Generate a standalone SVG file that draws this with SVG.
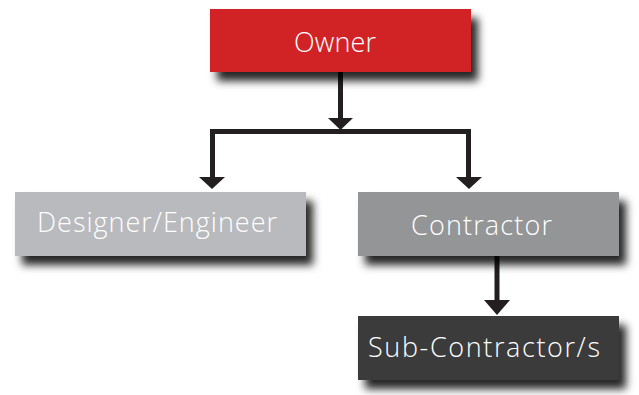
<svg xmlns="http://www.w3.org/2000/svg" width="639" height="395" viewBox="0 0 639 395">
  <defs>
    <filter id="shadow" x="-10%" y="-20%" width="130%" height="170%">
      <feDropShadow dx="7" dy="9" stdDeviation="4.5" flood-color="#000" flood-opacity="0.85"/>
    </filter>
  </defs>
  <style>
    .box { filter: url(#shadow); }
    .label { font-family: "Open Sans", "DejaVu Sans", sans-serif; font-size: 27px; font-weight: 300; fill: #ffffff; }
    .wire { fill: none; stroke: #231f20; stroke-width: 5; }
    .head { fill: #231f20; }
  </style>
  <rect width="639" height="395" fill="#ffffff"/>

  <g id="connectors">
    <line class="wire" x1="340.5" y1="72" x2="340.5" y2="120"/>
    <polygon class="head" points="328,118 353,118 340.5,130"/>
    <polyline class="wire" points="212.5,180 212.5,131.5 468.5,131.5 468.5,180" stroke-width="4"/>
    <polygon class="head" points="199,177 225,177 212,189"/>
    <polygon class="head" points="456,177 482,177 469,189"/>
    <line class="wire" x1="497" y1="256" x2="497" y2="302"/>
    <polygon class="head" points="484,300 510,300 497,315"/>
  </g>

  <g id="owner">
    <rect class="box" x="210" y="9" width="261" height="63" fill="#d12027"/>
    <text class="label" x="294" y="52" textLength="82">Owner</text>
  </g>

  <g id="designer">
    <rect class="box" x="15" y="192" width="291" height="64" fill="#b9babe"/>
    <text class="label" x="37" y="232" textLength="240">Designer/Engineer</text>
  </g>

  <g id="contractor">
    <rect class="box" x="358" y="192" width="261" height="64" fill="#949597"/>
    <text class="label" x="411" y="235" textLength="141">Contractor</text>
  </g>

  <g id="subcontractor">
    <rect class="box" x="358" y="316" width="261" height="64" fill="#3a3a3b"/>
    <text class="label" x="368" y="357" textLength="232">Sub-Contractor/s</text>
  </g>
</svg>
